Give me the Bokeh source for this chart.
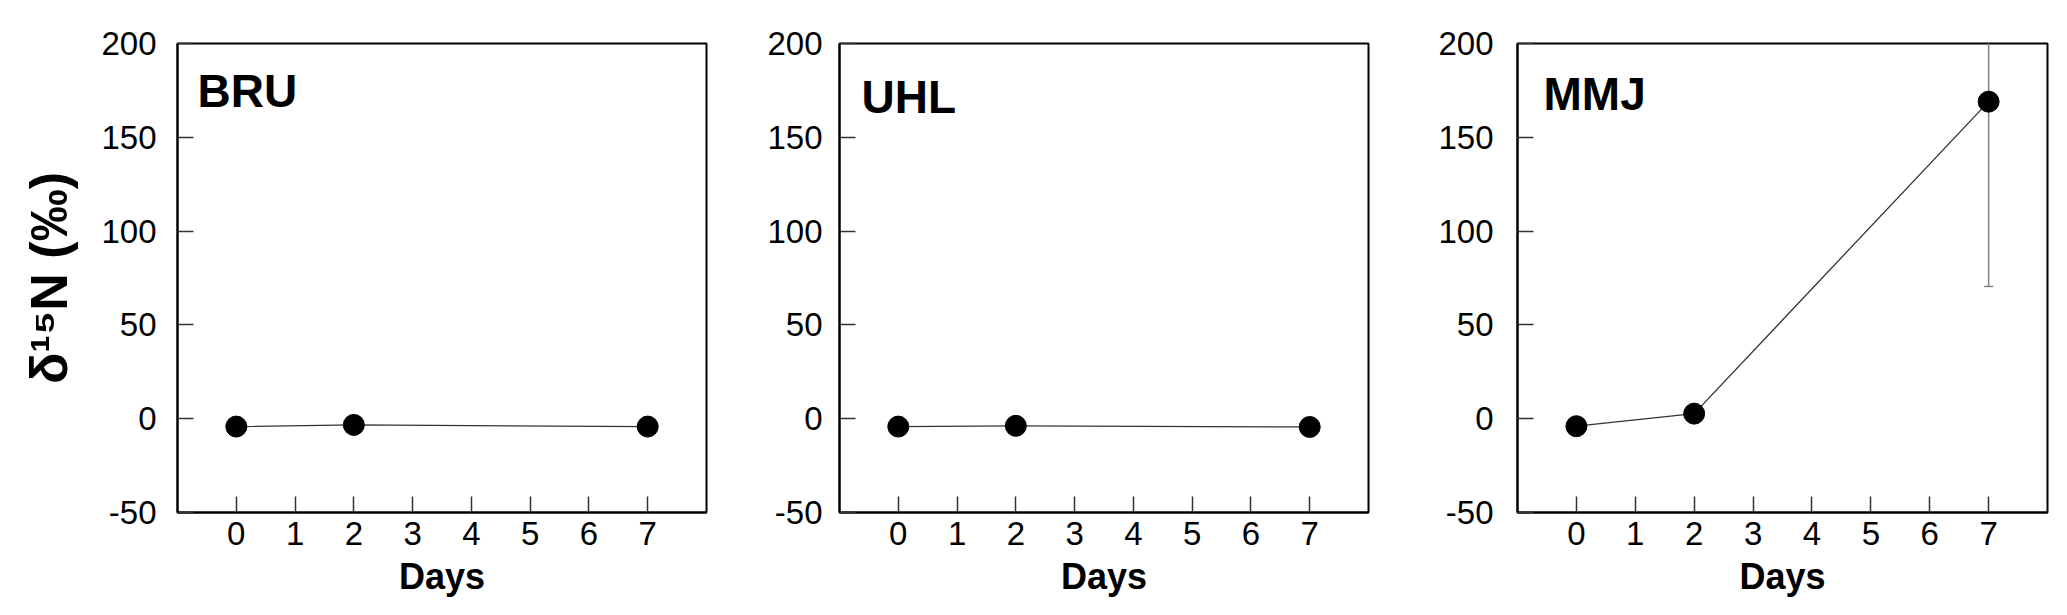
from bokeh.plotting import figure
from bokeh.layouts import row
from bokeh.models import Range1d, FixedTicker, Label, NumeralTickFormatter
from bokeh.embed import file_html
from bokeh.resources import INLINE

# ---- data ----
days = [0, 2, 7]
bru_vals = [-4.2, -3.3, -4.2]
uhl_vals = [-4.2, -3.8, -4.4]
mmj_vals = [-4.0, 2.7, 169.0]
bru_err = [0.0, 0.0, 0.0]
uhl_err = [0.0, 0.0, 0.0]
mmj_err = [0.0, 0.0, 98.5]
panel_names = ["BRU", "UHL", "MMJ"]
x_tick_values = [0, 1, 2, 3, 4, 5, 6, 7]
y_tick_values = [-50, 0, 50, 100, 150, 200]
x_title = "Days"
y_title = "δ¹⁵N (‰)"

FONT = "Liberation Sans"


def make_panel(name, vals, errs, bl, br, bt, bb, fw, standoff, name_xy):
    p = figure(frame_width=fw, frame_height=469,
               min_border_left=bl, min_border_right=br,
               min_border_top=bt, min_border_bottom=bb,
               x_range=Range1d(-1, 8), y_range=Range1d(-50, 200),
               output_backend="svg", toolbar_location=None,
               background_fill_color="white", border_fill_color="white")
    p.grid.visible = False
    p.outline_line_color = "black"
    p.outline_line_width = 2
    p.outline_line_alpha = 1.0

    for ax in (p.xaxis[0], p.yaxis[0]):
        ax.axis_line_color = "black"
        ax.axis_line_width = 2
        ax.major_tick_in = 16
        ax.major_tick_out = 0
        ax.major_tick_line_color = "#333333"
        ax.major_tick_line_width = 1.5
        ax.minor_tick_line_color = None
        ax.major_label_text_font = FONT
        ax.major_label_text_font_size = "33px"
        ax.major_label_text_color = "black"
        ax.formatter = NumeralTickFormatter(format="0")
    p.xaxis[0].ticker = FixedTicker(ticks=x_tick_values)
    p.yaxis[0].ticker = FixedTicker(ticks=y_tick_values)
    p.xaxis[0].major_label_standoff = 9
    p.yaxis[0].major_label_standoff = standoff

    p.xaxis[0].axis_label = x_title
    p.xaxis[0].axis_label_text_font = FONT
    p.xaxis[0].axis_label_text_font_size = "36px"
    p.xaxis[0].axis_label_text_font_style = "bold"
    p.xaxis[0].axis_label_text_color = "black"
    p.xaxis[0].axis_label_standoff = 8

    lo = [v - e for v, e in zip(vals, errs)]
    hi = [v + e for v, e in zip(vals, errs)]
    p.segment(x0=days, y0=lo, x1=days, y1=hi, line_color="#808080", line_width=1.5)
    p.scatter(x=days, y=lo, marker="dash", size=9, line_color="#808080", line_width=1.5)
    p.line(x=days, y=vals, line_color="#333333", line_width=1.3)
    p.scatter(x=days, y=vals, marker="circle", size=21, fill_color="black", line_color="black")

    p.add_layout(Label(x=name_xy[0], y=name_xy[1], x_units="screen", y_units="screen",
                       text=name, text_font=FONT, text_font_size="46px",
                       text_font_style="bold", text_color="black",
                       text_align="left", text_baseline="alphabetic"))
    return p


# page origin at (0,0): frames at x = 177, 839, 1517 and top = 43, 39, 40
p1 = make_panel(panel_names[0], bru_vals, bru_err, 177, 20, 43, 100, 529, 21, (20, 422))
p2 = make_panel(panel_names[1], uhl_vals, uhl_err, 113, 20, 39, 104, 529, 17, (22, 416))
p3 = make_panel(panel_names[2], mmj_vals, mmj_err, 129, 12, 40, 103, 530, 24, (26, 419))

p1.yaxis[0].axis_label = y_title
p1.yaxis[0].axis_label_text_font = FONT
p1.yaxis[0].axis_label_text_font_size = "52px"
p1.yaxis[0].axis_label_text_font_style = "bold"
p1.yaxis[0].axis_label_text_color = "black"
p1.yaxis[0].axis_label_standoff = 20

layout = row(p1, p2, p3)
open("out.html", "w").write(file_html(layout, INLINE))
